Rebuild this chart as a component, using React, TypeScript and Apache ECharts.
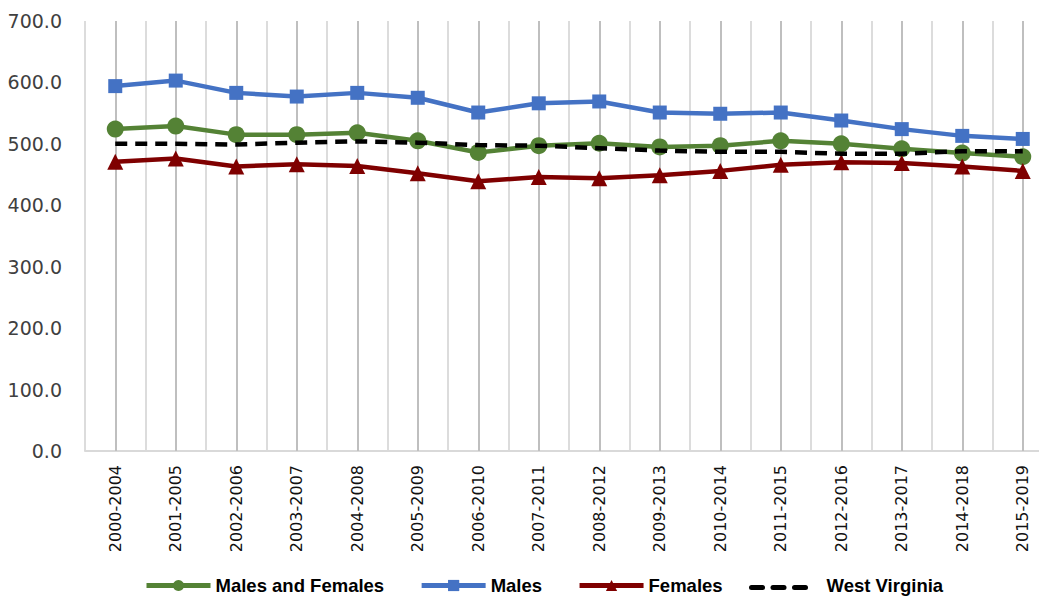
import React, { useEffect, useRef } from "react";
import * as echarts from "echarts";

const categories = [
  "2000-2004", "2001-2005", "2002-2006", "2003-2007", "2004-2008", "2005-2009",
  "2006-2010", "2007-2011", "2008-2012", "2009-2013", "2010-2014", "2011-2015",
  "2012-2016", "2013-2017", "2014-2018", "2015-2019",
];
const malesAndFemales = [524, 529, 515, 515, 518, 505, 486, 497, 501, 495, 497, 505, 500, 492, 485, 479];
const males = [594, 603, 583, 577, 583, 575, 551, 566, 569, 551, 549, 551, 538, 524, 513, 508];
const females = [471, 476, 463, 467, 464, 452, 439, 446, 444, 449, 456, 466, 470, 469, 463, 456];
const westVirginia = [500, 500, 499, 502, 504, 502, 498, 497, 493, 489, 487, 487, 484, 484, 488, 488];

const FONT = "Liberation Sans";
const WIDE = "DejaVu Sans";

export default function App() {
  const ref = useRef<HTMLDivElement>(null);
  useEffect(() => {
    if (!ref.current) return;
    const chart = echarts.init(ref.current, null, { renderer: "svg" });
    chart.setOption({
      animation: false,
      textStyle: { fontFamily: FONT },
      grid: { left: 85, top: 21, width: 968, height: 430, containLabel: false },
      legend: {
        top: 576,
        left: 144,
        padding: 0,
        itemWidth: 64,
        itemHeight: 14,
        itemGap: 35,
        lineStyle: { width: 5 },
        textStyle: { fontSize: 18.5, fontWeight: "bold", color: "#000", fontFamily: FONT },
        data: [
          { name: "Males and Females" },
          { name: "Males" },
          { name: "Females" },
          { name: "West Virginia", icon: "none" },
        ],
      },
      graphic: [0, 1, 2].map((i) => ({
        type: "rect",
        shape: { x: 749 + i * 21.5, y: 585, width: 16, height: 5, r: 2.5 },
        style: { fill: "#000" },
        silent: true,
      })),
      xAxis: {
        type: "category",
        data: categories,
        boundaryGap: true,
        axisLine: { show: true, lineStyle: { color: "#d9d9d9", width: 2 } },
        axisTick: { show: false },
        splitLine: { show: true, lineStyle: { color: "#dcdcdc", width: 2 } },
        axisLabel: { rotate: 90, fontSize: 16, color: "#111", margin: 14, fontFamily: WIDE },
      },
      yAxis: {
        type: "value",
        min: 0,
        max: 700,
        interval: 100,
        axisLine: { show: false },
        axisTick: { show: false },
        splitLine: { show: false },
        axisLabel: {
          fontSize: 19,
          color: "#404040",
          margin: 23,
          fontFamily: WIDE,
          formatter: (v: number) => v.toFixed(1),
        },
      },
      series: [
        {
          name: "Males and Females",
          type: "line",
          data: malesAndFemales,
          symbol: "circle",
          symbolSize: 17,
          lineStyle: { color: "#548235", width: 4.5 },
          itemStyle: { color: "#548235" },
          z: 4,
          markLine: {
            silent: true,
            symbol: "none",
            label: { show: false },
            lineStyle: { color: "#bfbfbf", width: 2, type: "solid" },
            data: categories.map((c) => ({ xAxis: c })),
            z: 1,
          },
        },
        {
          name: "Males",
          type: "line",
          data: males,
          symbol: "rect",
          symbolSize: 14,
          lineStyle: { color: "#4472C4", width: 4.5 },
          itemStyle: { color: "#4472C4" },
          z: 4,
        },
        {
          name: "Females",
          type: "line",
          data: females,
          symbol: "triangle",
          symbolSize: 16,
          lineStyle: { color: "#7f0000", width: 4.5 },
          itemStyle: { color: "#7f0000" },
          z: 4,
        },
        {
          name: "West Virginia",
          type: "line",
          data: westVirginia,
          symbol: "none",
          lineStyle: { color: "#000", width: 4.5, type: [12, 8] },
          itemStyle: { color: "#000" },
          z: 5,
        },
      ],
    });
    return () => chart.dispose();
  }, []);
  return (
    <div style={{ width: 1039, height: 596, position: "absolute", left: 0, top: 0, overflow: "hidden" }}>
      <div ref={ref} style={{ width: 1070, height: 596 }} />
    </div>
  );
}
